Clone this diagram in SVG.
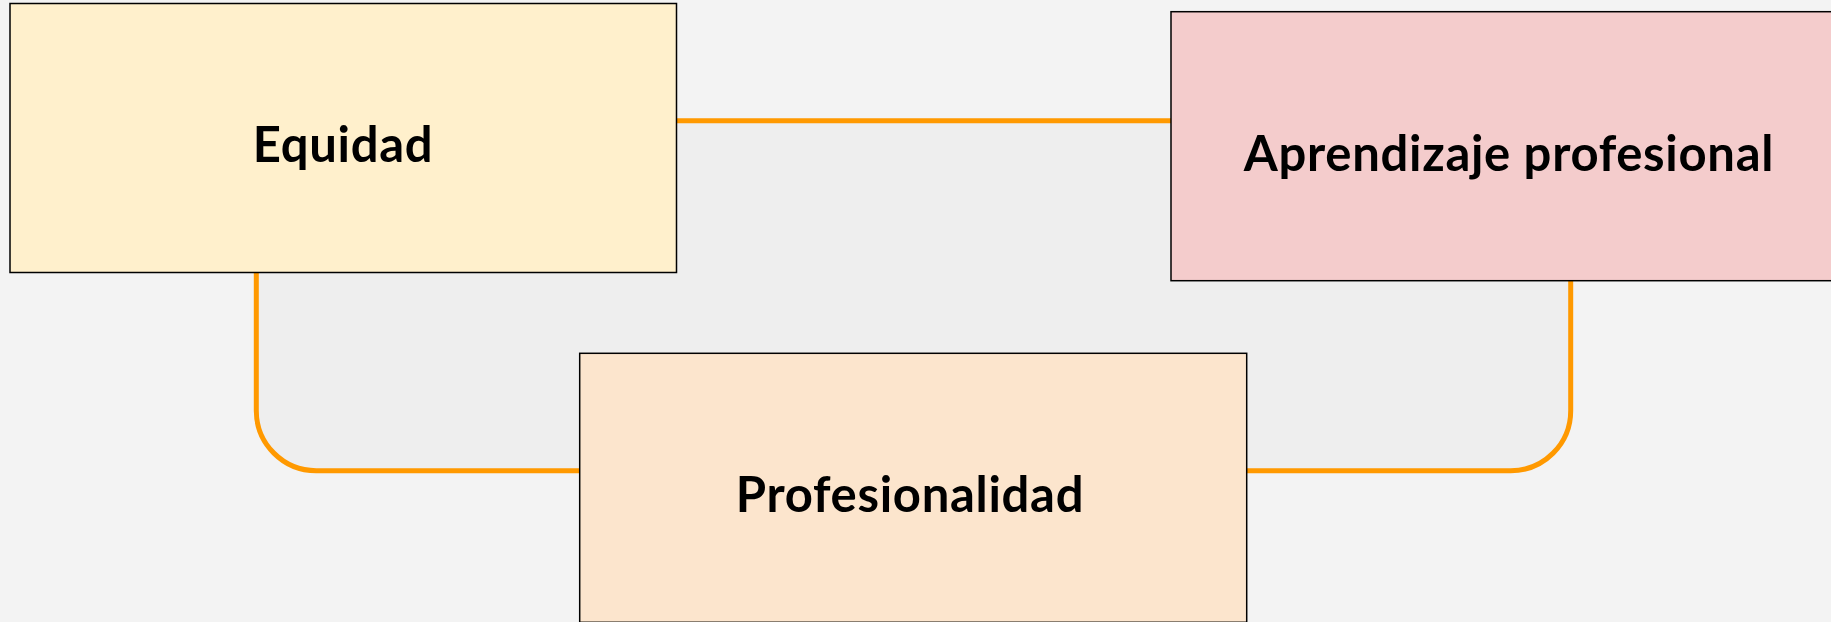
<svg xmlns="http://www.w3.org/2000/svg" width="1831" height="622" viewBox="0 0 1831 622">
<style>
.box{stroke:#000;stroke-width:1.5}
.lbl{font-family:Lato,"Open Sans","Liberation Sans",sans-serif;font-weight:700;font-size:49px;letter-spacing:0.7px;fill:#000;text-anchor:middle}
.conn{fill:#eeeeee;stroke:#ff9900;stroke-width:5}
</style>
<rect width="1831" height="622" fill="#f3f3f3"/>
<g id="connectors">
<rect class="conn" x="256.3" y="120.8" width="1314.4" height="349.9" rx="60" ry="60"/>
</g>
<g id="equidad">
<rect class="box" x="10" y="3.5" width="666.5" height="269" fill="#fff0cc"/>
<text class="lbl" x="343" y="162">Equidad</text>
</g>
<g id="aprendizaje">
<rect class="box" x="1171" y="11.7" width="666.5" height="269" fill="#f4cccc"/>
<text class="lbl" x="1509" y="170.5">Aprendizaje profesional</text>
</g>
<g id="profesionalidad">
<rect class="box" x="579.7" y="353.3" width="667" height="269" fill="#fce5cd"/>
<text class="lbl" x="910" y="511.5">Profesionalidad</text>
</g>
</svg>
